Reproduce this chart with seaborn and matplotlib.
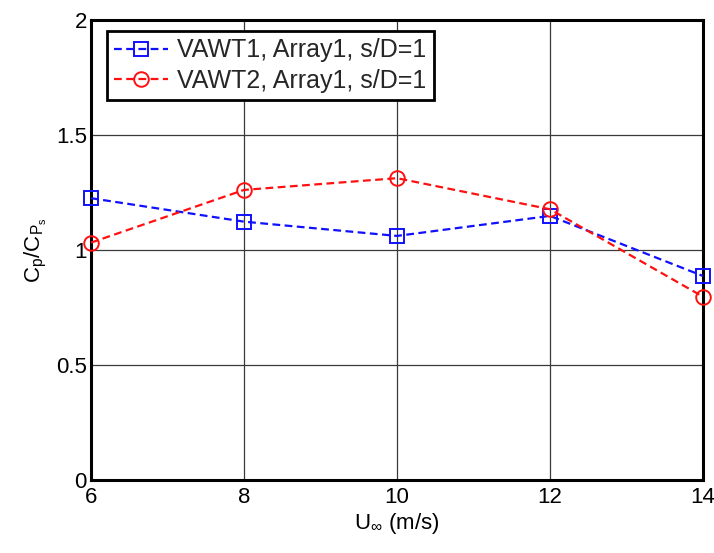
import matplotlib
matplotlib.use("Agg")
import matplotlib.pyplot as plt
import seaborn as sns
import pandas as pd

# Wind speed (m/s) and normalised power coefficient for each turbine
wind_speed = [6, 8, 10, 12, 14]
vawt1_cp = [1.225, 1.123, 1.061, 1.148, 0.887]
vawt2_cp = [1.032, 1.261, 1.312, 1.177, 0.797]
series_names = ["VAWT1, Array1, s/D=1", "VAWT2, Array1, s/D=1"]
x_ticks = [6, 8, 10, 12, 14]
y_ticks = [0, 0.5, 1, 1.5, 2]
y_tick_labels = ["0", "0.5", "1", "1.5", "2"]

sns.set_style("white")
plt.rcParams["font.family"] = ["Liberation Sans", "DejaVu Sans"]
plt.rcParams["mathtext.fontset"] = "custom"
plt.rcParams["mathtext.rm"] = "Liberation Sans"
plt.rcParams["mathtext.it"] = "Liberation Sans"
plt.rcParams["mathtext.cal"] = "Liberation Sans"

fig = plt.figure(figsize=(7.14, 5.53), dpi=100)
ax = fig.add_axes([0.1275, 0.132, 0.857, 0.832])

df = pd.DataFrame({
    "speed": wind_speed * 2,
    "cp": vawt1_cp + vawt2_cp,
    "series": [series_names[0]] * len(wind_speed) + [series_names[1]] * len(wind_speed),
})

styles = [("#1010ff", "s"), ("#ff1010", "o")]
for name, (color, marker) in zip(series_names, styles):
    sub = df[df["series"] == name]
    sns.lineplot(data=sub, x="speed", y="cp", ax=ax, color=color,
                 linestyle=(0, (3.5, 2)), linewidth=1.6, marker=marker,
                 markersize=10.5 if marker == "o" else 9.5,
                 markerfacecolor="none", markeredgecolor=color,
                 markeredgewidth=1.4, label=name, clip_on=False, zorder=3)

ax.set_xlim(6, 14)
ax.set_ylim(0, 2)
ax.set_xticks(x_ticks)
ax.set_yticks(y_ticks)
ax.set_yticklabels(y_tick_labels)
ax.grid(True, color="#3a3a3a", linewidth=0.9, linestyle="-")
ax.set_axisbelow(True)
for s in ax.spines.values():
    s.set_color("black")
    s.set_linewidth(2.2)
ax.tick_params(direction="in", length=6, width=1, labelsize=16,
               colors="black", pad=3)
ax.tick_params(axis="x", pad=5)

ax.set_xlabel(r"U$_{\infty}$ (m/s)", fontsize=16, color="black", labelpad=2)
ax.set_ylabel(r"C$_p$/C$_{P_s}$", fontsize=16, color="black", labelpad=5)

leg = ax.legend(loc="upper left", bbox_to_anchor=(0.026, 0.976),
                borderaxespad=0.0, fontsize=18, frameon=True, fancybox=False,
                handlelength=2.15, handletextpad=0.35,
                borderpad=0.3, labelspacing=0.25)
leg.get_frame().set_edgecolor("black")
leg.get_frame().set_linewidth(2.0)
leg.get_frame().set_alpha(1.0)

fig.savefig("out.png", dpi=100)
